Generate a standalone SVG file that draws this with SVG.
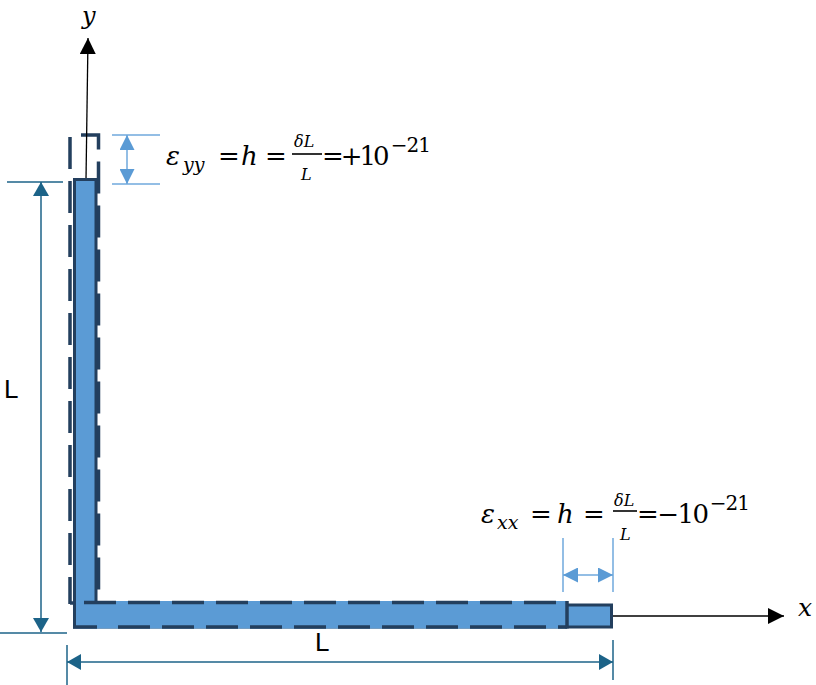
<svg xmlns="http://www.w3.org/2000/svg" width="816" height="685" viewBox="0 0 816 685">
<defs>
<style>
.bar{fill:#5B9BD5;stroke:#233F5E;stroke-width:3}
.dash{fill:none;stroke:#233F5E;stroke-width:3.5;stroke-dasharray:32 12}
.solid{fill:none;stroke:#233F5E;stroke-width:3.5}
.dim{stroke:#1C6388;stroke-width:1.5;fill:none}
.ldim{stroke:#6FA8DC;stroke-width:1.5;fill:none}
.ax{stroke:#000;stroke-width:1.3;fill:none}
text.m{font-family:'DejaVu Serif','Liberation Serif',serif;fill:#000}
text.i{font-style:italic}
text.lbl{font-family:'Liberation Sans',Arial,sans-serif;font-size:26px;fill:#000}
</style>
<marker id="ah" viewBox="0 0 16 16" refX="16" refY="8" markerWidth="16" markerHeight="16" markerUnits="userSpaceOnUse" orient="auto"><path d="M0,0 L16,8 L0,16 Z" fill="#000"/></marker>
<marker id="dh" viewBox="0 0 14 16" refX="14" refY="8" markerWidth="14" markerHeight="16" markerUnits="userSpaceOnUse" orient="auto-start-reverse"><path d="M0,0 L14,8 L0,16 Z" fill="#1C6388"/></marker>
<marker id="lh" viewBox="0 0 15 15" refX="15" refY="7.5" markerWidth="15" markerHeight="15" markerUnits="userSpaceOnUse" orient="auto-start-reverse"><path d="M0,0 L15,7.5 L0,15 Z" fill="#5B9BD5"/></marker>
</defs>

<g id="vertical-arm">
<path class="dash" d="M70,137 V604"/>
<path class="dash" d="M81,135 H98.5 V604"/>
<path class="solid" d="M70,603 H99"/>
</g>

<g id="axes">
<line class="ax" x1="80" y1="605" x2="88" y2="38" marker-end="url(#ah)"/>
<line class="ax" x1="613" y1="616" x2="784" y2="616" marker-end="url(#ah)"/>
<text class="m i" x="82" y="24" font-size="24">y</text>
<text class="m i" x="798" y="616" font-size="25">x</text>
</g>

<g id="vertical-bar">
<rect class="bar" x="74.5" y="179.5" width="21.5" height="424"/>
</g>

<g id="horizontal-arm">
<rect class="bar" x="74.5" y="605" width="537" height="22"/>
<rect x="76" y="601" width="490" height="27.5" fill="#5B9BD5"/>
<path class="dash" d="M84,602.5 H567"/>
<path class="dash" d="M118,627 H567"/>
<path class="solid" d="M73,627 H97"/>
<path class="solid" d="M567,601 V628.5"/>
</g>

<g id="connectors">
<line class="dim" x1="7" y1="182" x2="63" y2="182"/>
<line class="dim" x1="0" y1="633" x2="67" y2="633"/>
<line class="dim" x1="41" y1="182" x2="41" y2="632" marker-start="url(#dh)" marker-end="url(#dh)"/>
<line class="dim" x1="67" y1="645" x2="67" y2="685"/>
<line class="dim" x1="613" y1="640" x2="613" y2="680"/>
<line class="dim" x1="67" y1="662" x2="613" y2="662" marker-start="url(#dh)" marker-end="url(#dh)"/>
<line class="ldim" x1="112" y1="135" x2="160" y2="135"/>
<line class="ldim" x1="112" y1="184" x2="160" y2="184"/>
<line class="ldim" x1="127" y1="135" x2="127" y2="184" marker-start="url(#lh)" marker-end="url(#lh)"/>
<line class="ldim" x1="563" y1="538" x2="563" y2="592"/>
<line class="ldim" x1="613" y1="538" x2="613" y2="592"/>
<line class="ldim" x1="563" y1="575" x2="613" y2="575" marker-start="url(#lh)" marker-end="url(#lh)"/>
</g>

<g id="labels">
<text class="lbl" x="4" y="398">L</text>
<text class="lbl" x="315" y="651">L</text>
</g>

<g id="eq-yy">
<text class="m i" x="166" y="165" font-size="26">ε</text>
<text class="m i" x="183" y="171" font-size="19">yy</text>
<text class="m" x="218" y="165" font-size="26">=</text>
<text class="m i" x="241" y="165" font-size="26">h</text>
<text class="m" x="265" y="165" font-size="26">=</text>
<text class="m i" x="294" y="147" font-size="16">δL</text>
<line x1="292" y1="154" x2="322" y2="154" stroke="#000" stroke-width="1.6"/>
<text class="m i" x="301" y="180" font-size="16">L</text>
<text class="m" x="322" y="165" font-size="26" letter-spacing="-3">=+10<tspan dx="4" dy="-13" font-size="20" letter-spacing="-1">−21</tspan></text>
</g>

<g id="eq-xx">
<text class="m i" x="481" y="523" font-size="26">ε</text>
<text class="m i" x="497" y="529" font-size="19">xx</text>
<text class="m" x="530" y="523" font-size="26">=</text>
<text class="m i" x="557" y="523" font-size="26">h</text>
<text class="m" x="583" y="523" font-size="26">=</text>
<text class="m i" x="614" y="506" font-size="16">δL</text>
<line x1="613" y1="511" x2="637" y2="511" stroke="#000" stroke-width="1.6"/>
<text class="m i" x="620" y="540" font-size="16">L</text>
<text class="m" x="637" y="523" font-size="26" letter-spacing="-1.5">=−10<tspan dx="2" dy="-13" font-size="20" letter-spacing="-1">−21</tspan></text>
</g>
</svg>
